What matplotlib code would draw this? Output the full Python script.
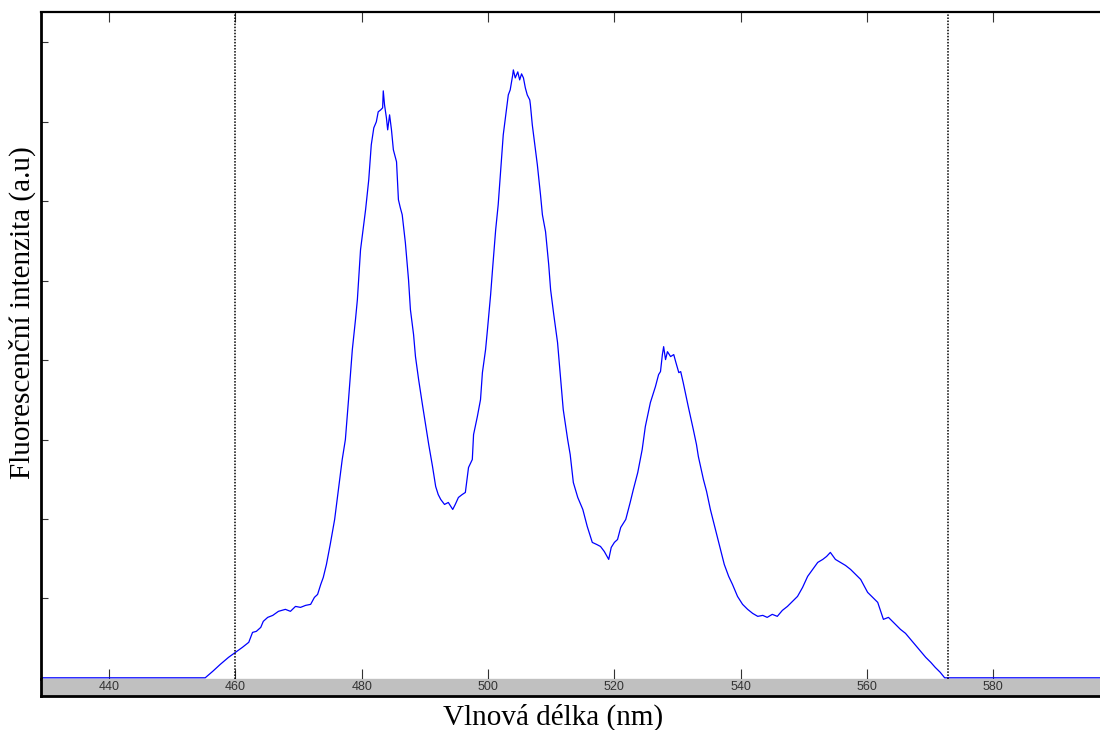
import matplotlib
matplotlib.use("Agg")
import matplotlib.pyplot as plt
import numpy as np

# wavelength (nm) and fluorescence intensity (a.u.)
wavelength = np.array([
    429.0, 455.2, 456.4, 457.6, 458.9, 460.0, 461.1, 462.1, 462.7, 463.3,
    464.0, 464.4, 465.1, 465.9, 466.8, 467.9, 468.7, 469.5, 470.3, 471.1,
    471.9, 472.5, 473.0, 473.5, 473.9, 474.4, 475.0, 475.7, 476.3, 476.9,
    477.4, 477.9, 478.5, 479.0, 479.3, 479.8, 480.3, 480.6, 481.1, 481.5,
    481.9, 482.3, 482.6, 483.0, 483.3, 483.4, 483.6, 483.9, 484.1, 484.4,
    484.7, 485.0, 485.3, 485.5, 485.8, 486.1, 486.4, 486.9, 487.4, 487.7,
    488.2, 488.5, 489.0, 489.6, 490.1, 490.6, 491.2, 491.7, 492.1, 492.5,
    493.1, 493.7, 494.4, 494.8, 495.3, 495.9, 496.4, 496.9, 497.5, 497.7,
    498.3, 498.8, 499.1, 499.6, 499.9, 500.4, 500.7, 501.2, 501.6, 502.0,
    502.4, 502.9, 503.2, 503.5, 503.9, 504.0, 504.3, 504.7, 505.0, 505.3,
    505.6, 505.9, 506.2, 506.6, 506.7, 507.0, 507.3, 507.8, 508.3, 508.6,
    509.1, 509.6, 509.9, 510.4, 511.0, 511.5, 511.9, 512.6, 513.0, 513.5,
    514.2, 515.0, 515.7, 516.5, 517.2, 517.8, 518.4, 519.1, 519.5, 520.0,
    520.5, 521.0, 521.8, 522.5, 523.0, 523.7, 524.1, 524.4, 524.9, 525.4,
    525.7, 526.5, 527.0, 527.3, 527.6, 527.8, 528.1, 528.4, 528.9, 529.4,
    529.7, 530.2, 530.5, 530.9, 531.7, 532.5, 533.0, 533.3, 534.1, 534.6,
    535.2, 536.0, 536.8, 537.4, 538.1, 538.7, 539.5, 540.3, 541.1, 541.9,
    542.7, 543.5, 544.2, 545.0, 545.8, 546.6, 547.4, 548.2, 549.0, 549.8,
    550.6, 551.4, 552.2, 553.0, 553.6, 554.2, 555.0, 555.8, 556.6, 557.4,
    558.2, 559.0, 560.1, 560.9, 561.7, 562.6, 563.4, 564.2, 565.3, 566.1,
    566.9, 567.7, 568.5, 569.3, 570.1, 570.8, 571.6, 572.3, 597.0,
])
intensity = np.array([
    0, 0, 82, 170, 258, 321, 384, 447, 572, 585,
    635, 711, 761, 786, 837, 862, 837, 899, 887, 912,
    925, 1013, 1050, 1176, 1264, 1428, 1679, 1994, 2371, 2749,
    3000, 3503, 4132, 4510, 4761, 5390, 5705, 5894, 6271, 6711,
    6925, 7001, 7127, 7152, 7177, 7391, 7215, 7051, 6900, 7089,
    6900, 6649, 6560, 6498, 6020, 5919, 5831, 5479, 5013, 4636,
    4321, 4045, 3755, 3441, 3189, 2937, 2661, 2409, 2308, 2246,
    2183, 2208, 2120, 2183, 2271, 2308, 2334, 2648, 2749, 3063,
    3290, 3503, 3843, 4132, 4384, 4824, 5139, 5642, 5957, 6397,
    6837, 7152, 7340, 7403, 7592, 7655, 7554, 7630, 7529, 7605,
    7554, 7428, 7340, 7277, 7215, 6963, 6774, 6460, 6082, 5831,
    5617, 5202, 4887, 4573, 4221, 3755, 3378, 3000, 2812, 2459,
    2271, 2120, 1906, 1705, 1679, 1654, 1591, 1491, 1642, 1705,
    1742, 1893, 1994, 2208, 2371, 2585, 2749, 2874, 3164, 3353,
    3466, 3667, 3818, 3856, 4070, 4170, 4007, 4107, 4045, 4070,
    3982, 3843, 3856, 3717, 3415, 3126, 2937, 2786, 2497, 2346,
    2120, 1868, 1617, 1428, 1277, 1176, 1025, 925, 862, 811,
    774, 786, 761, 799, 774, 849, 899, 962, 1025, 1138,
    1277, 1365, 1453, 1491, 1528, 1579, 1491, 1453, 1415, 1365,
    1302, 1239, 1076, 1013, 950, 736, 761, 698, 610, 560,
    484, 409, 333, 258, 195, 132, 69, 0, 0,
])

x_ticks = [440, 460, 480, 500, 520, 540, 560, 580]
y_ticks = [1000, 2000, 3000, 4000, 5000, 6000, 7000, 8000]
marker_lines = [460, 572.9]
x_range = (429.2, 596.9)

fig = plt.figure(figsize=(11, 7.3), dpi=100)
ax = fig.add_axes([41 / 1100, 51 / 730, 1059 / 1100, 667 / 730])
strip = fig.add_axes([41 / 1100, 34 / 730, 1059 / 1100, 17 / 730])

ax.plot(wavelength, intensity, color="#0000ff", linewidth=0.9)
for xv in marker_lines:
    ax.axvline(xv, color="black", linestyle=(0, (1, 1)), linewidth=1.1)

ax.set_xlim(*x_range)
ax.set_ylim(-15, 8384)
ax.set_xticks(x_ticks)
ax.set_yticks(y_ticks)
ax.tick_params(axis="x", direction="in", top=True, bottom=True, length=7,
               width=0.8, color="#333333", labelbottom=False)
ax.tick_params(axis="y", direction="in", length=5, width=0.8,
               color="#333333", labelleft=False)
ax.spines["right"].set_visible(False)
ax.spines["left"].set_linewidth(2.0)
ax.spines["top"].set_linewidth(1.6)
ax.spines["bottom"].set_linewidth(0.8)
ax.spines["bottom"].set_color("#333333")

strip.set_facecolor("#c0c0c0")
strip.set_xlim(*x_range)
strip.set_yticks([])
strip.set_xticks(x_ticks)
strip.set_xticklabels([str(t) for t in x_ticks], fontsize=9,
                      family="Liberation Sans", color="#333333")
strip.tick_params(axis="x", length=0, pad=-11)
strip.spines["right"].set_visible(False)
strip.spines["top"].set_visible(False)
strip.spines["left"].set_linewidth(2.0)
strip.spines["bottom"].set_linewidth(2.0)

fig.text(553 / 1100, 1 - 717 / 730, "Vlnová délka (nm)", ha="center", va="center",
         fontsize=21, family="Liberation Serif")
fig.text(22 / 1100, 1 - 313 / 730, "Fluorescenční intenzita (a.u)", ha="center",
         va="center", rotation=90, fontsize=21, family="Liberation Serif")

fig.savefig("out.png", dpi=100)
